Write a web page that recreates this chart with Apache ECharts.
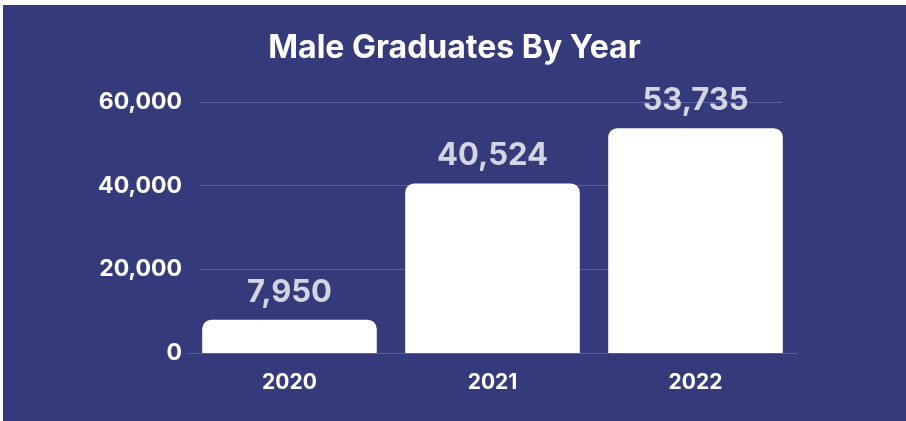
<!DOCTYPE html>
<html>
<head>
<meta charset="utf-8">
<script src="https://cdn.jsdelivr.net/npm/echarts@6/dist/echarts.min.js"></script>
<style>
html,body{margin:0;padding:0;background:#ffffff;width:906px;height:421px;overflow:hidden;}
#c{position:absolute;left:3px;top:5px;width:903px;height:416px;}
</style>
</head>
<body>
<div id="c"></div>
<script>
const categories = ['2020', '2021', '2022'];
const maleGraduates = [7950, 40524, 53735];
const yTicks = [0, 20000, 40000, 60000];

const chart = echarts.init(document.getElementById('c'));
const fontFam = 'Inter, "Noto Sans", sans-serif';
chart.setOption({
  backgroundColor: '#353a7b',
  animation: false,
  title: {
    text: 'Male Graduates By Year',
    left: 'center',
    top: 22,
    textStyle: {color: '#ffffff', fontSize: 32, fontWeight: 'bold', fontFamily: fontFam}
  },
  grid: [
    {left: 197, right: 124, top: 97, bottom: 68},
    {left: 185, right: 109, top: 97, bottom: 68}
  ],
  xAxis: [
    {gridIndex: 0, type: 'category', data: categories, show: false},
    {gridIndex: 1, type: 'category', data: categories,
     axisLine: {show: true, lineStyle: {color: '#5a60a3', width: 1}},
     axisTick: {show: false},
     axisLabel: {color: '#ffffff', fontSize: 21, fontWeight: 'bold', fontFamily: fontFam, margin: 19}}
  ],
  yAxis: [
    {gridIndex: 0, type: 'value', min: yTicks[0], max: yTicks[yTicks.length-1], interval: 20000,
     axisLine: {show: false}, axisTick: {show: false},
     splitLine: {lineStyle: {color: '#5a60a3', width: 1}},
     axisLabel: {color: '#ffffff', fontSize: 23, fontWeight: 'bold', fontFamily: fontFam, margin: 18,
       formatter: v => v.toLocaleString('en-US')}},
    {gridIndex: 1, type: 'value', min: yTicks[0], max: yTicks[yTicks.length-1], interval: 20000, show: false}
  ],
  series: [{
    type: 'bar',
    xAxisIndex: 1, yAxisIndex: 1,
    data: maleGraduates,
    barCategoryGap: '14%',
    itemStyle: {color: '#ffffff', borderRadius: [9, 9, 0, 0]},
    label: {show: true, position: 'top', distance: 12, color: '#d3d6e2', fontSize: 31, fontWeight: 'bold', fontFamily: fontFam,
      formatter: p => p.value.toLocaleString('en-US')}
  }]
});
</script>
</body>
</html>
